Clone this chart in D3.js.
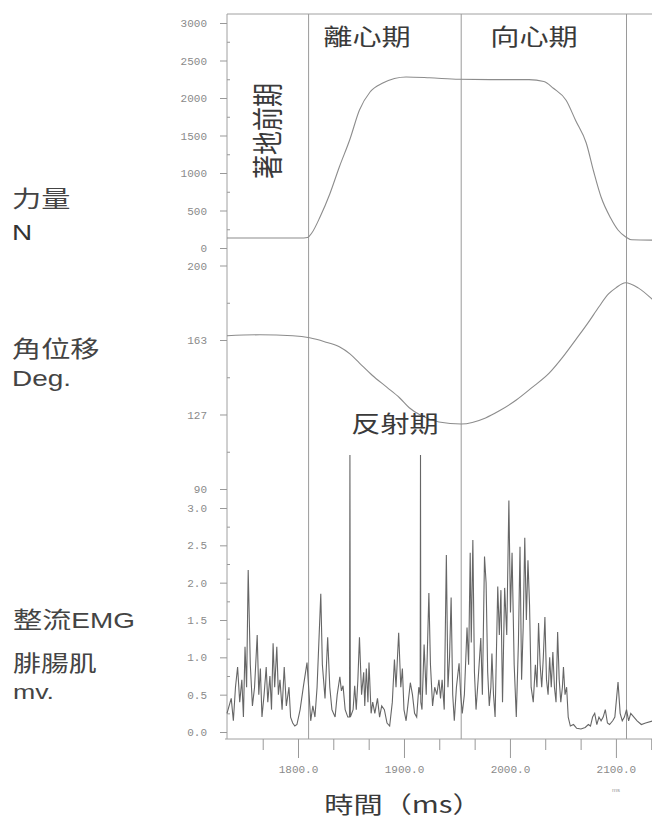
<!DOCTYPE html>
<html>
<head>
<meta charset="utf-8">
<script src="https://cdn.jsdelivr.net/npm/d3@7"></script>
<style>
  body { margin: 0; background: #fff; }
  svg { display: block; }
</style>
</head>
<body>
<div id="chart"></div>
<script>
// 時間軸 (ms)
var xTicks = [1800, 1900, 2000, 2100];
var xTickLabels = ["1800.0", "1900.0", "2000.0", "2100.0"];
var xMinorTicks = [1766.7, 1833.3, 1866.7, 1933.3, 1966.7, 2033.3, 2066.7, 2133.3];

// 分期
var phaseTimes = [1810, 1954, 2110];

// 力量 N
var forceTicks = [0, 500, 1000, 1500, 2000, 2500, 3000];
var forceTimes  = [1733, 1802, 1809, 1813, 1821, 1830, 1839, 1849, 1858, 1868, 1880, 1891, 1902, 1924, 1952, 1990, 2018, 2032, 2041, 2053, 2062, 2072, 2079, 2086, 2095, 2102, 2109, 2115, 2135];
var forceValues = [133, 133, 140, 200, 420, 720, 1080, 1450, 1840, 2080, 2200, 2260, 2280, 2270, 2250, 2245, 2245, 2220, 2130, 1970, 1700, 1400, 1020, 680, 400, 240, 150, 110, 105];

// 角位移 Deg.
var angleTicks = [90, 126.67, 163.33, 200];
var angleTickLabels = ["90", "127", "163", "200"];
var angleTimes  = [1733, 1764, 1795, 1811, 1825, 1839, 1849, 1858, 1870, 1884, 1896, 1905, 1915, 1933, 1954, 1977, 1990, 2006, 2021, 2037, 2050, 2062, 2074, 2084, 2093, 2100, 2109, 2121, 2135];
var angleValues = [165.4, 165.9, 165.4, 164.4, 162.5, 160, 156.5, 152, 146, 140, 134.8, 130, 126.5, 123, 122, 125, 128.5, 133.8, 140, 147, 155, 163.4, 172, 179.7, 186, 189, 191.5, 189, 183];

// 整流EMG 腓腸肌 mv.
var emgTicks = [0, 0.5, 1, 1.5, 2, 2.5, 3];
var emgSamples = [
  [1733, 0.25], [1737, 0.45], [1739, 0.15], [1741, 0.6], [1743, 0.87], [1745, 0.4], [1747, 0.7], [1748.5, 0.2],
  [1750, 1.14], [1751.5, 0.6], [1753, 2.17], [1755, 0.9], [1757, 0.35], [1759, 0.6], [1761.5, 1.3], [1763, 0.5],
  [1764.5, 0.85], [1766, 0.2], [1768, 0.5], [1770, 0.87], [1771.5, 0.4], [1773.5, 0.75], [1775, 0.3], [1776.5, 1.19],
  [1778, 0.6], [1780, 1.14], [1781.5, 0.5], [1783, 0.7], [1785, 0.3], [1787, 0.87], [1789, 0.35], [1791.5, 0.6],
  [1793, 0.2], [1795, 0.12], [1797, 0.08], [1799, 0.1], [1802, 0.3], [1805, 0.6], [1808.5, 0.93], [1810.5, 0.5],
  [1812, 0.15], [1814, 0.35], [1816, 0.2], [1818, 0.6], [1821.5, 1.85], [1823, 0.9], [1825.5, 0.45], [1828, 1.27],
  [1830, 0.6], [1832, 0.3], [1835, 0.2], [1837, 0.5], [1839.5, 0.74], [1841, 0.55], [1842.5, 0.62], [1844.5, 0.3],
  [1847, 0.2], [1848.6, 0.2], [1849, 3.71], [1849.4, 0.2], [1852, 0.3], [1853.5, 0.62], [1855, 0.3], [1856.5, 0.7],
  [1858, 1.27], [1860, 0.5], [1862, 0.8], [1863, 0.35], [1864.5, 0.85], [1866, 0.4], [1867, 0.93], [1869, 0.25],
  [1870.5, 0.4], [1872.5, 0.25], [1875, 0.45], [1877, 0.2], [1879, 0.35], [1881.5, 0.3], [1884, 0.12], [1886.5, 0.08],
  [1889, 0.4], [1891, 0.97], [1892.5, 0.6], [1895, 1.33], [1897, 0.6], [1898.5, 0.85], [1900, 0.3], [1902, 0.15],
  [1904, 0.4], [1906, 0.66], [1908, 0.5], [1910, 0.25], [1912, 0.2], [1914, 0.6], [1915.3, 0.5], [1915.6, 3.71],
  [1915.9, 0.4], [1917, 0.3], [1919, 1.17], [1921, 0.5], [1923.5, 1.86], [1925, 0.9], [1927, 0.35], [1929, 0.6],
  [1931, 0.5], [1933, 0.7], [1934.5, 0.45], [1936, 0.7], [1938, 0.3], [1940, 2.37], [1941.5, 0.6], [1943, 1.0],
  [1944.5, 1.8], [1946, 0.5], [1947.5, 0.15], [1949.5, 0.6], [1952, 0.92], [1953.5, 0.5], [1955, 0.25], [1957, 0.5],
  [1959.5, 1.4], [1961, 0.9], [1962.5, 2.4], [1963.5, 1.2], [1965, 2.57], [1966.5, 0.8], [1968, 0.3], [1970, 0.7],
  [1972.5, 1.26], [1974, 0.5], [1976, 2.35], [1977.5, 2.0], [1979, 0.8], [1980.5, 0.35], [1982, 0.6], [1983, 1.05],
  [1984.5, 0.5], [1986, 0.2], [1988.5, 1.95], [1990, 1.3], [1991.5, 1.9], [1993, 0.4], [1995, 1.93], [1997, 1.3],
  [1999, 3.1], [2000.5, 1.6], [2002, 2.4], [2004, 0.9], [2006, 0.2], [2008, 1.2], [2009.5, 2.48], [2011, 0.7],
  [2012.5, 1.4], [2014, 2.6], [2015.5, 1.5], [2017, 2.3], [2018.5, 1.7], [2020, 0.6], [2022, 0.4], [2024, 0.9],
  [2025.5, 0.6], [2027, 1.46], [2028.5, 0.9], [2030, 0.6], [2031.5, 1.0], [2033, 1.54], [2034.5, 0.7], [2036, 0.5],
  [2037.5, 1.0], [2039, 0.6], [2040.5, 1.07], [2042, 0.6], [2043.5, 0.4], [2045, 1.34], [2046.5, 0.7], [2048, 0.4],
  [2049.5, 0.6], [2050.5, 0.87], [2052, 0.5], [2053.5, 0.6], [2055, 0.2], [2057, 0.08], [2060, 0.1], [2063, 0.05],
  [2067, 0.04], [2071, 0.06], [2074, 0.1], [2076, 0.08], [2078, 0.2], [2080, 0.25], [2082, 0.1], [2084, 0.2],
  [2086, 0.15], [2088, 0.2], [2090, 0.3], [2092, 0.12], [2094, 0.1], [2097, 0.15], [2099, 0.2], [2102, 0.67],
  [2104, 0.25], [2106, 0.15], [2108, 0.2], [2110, 0.3], [2112, 0.15], [2114, 0.25], [2117, 0.2], [2120, 0.15],
  [2124, 0.1], [2128, 0.12], [2135, 0.15]
];

var width = 652, height = 822;
var plotLeft = 227, plotRight = 653, plotTop = 14, plotBottom = 739;
var stretch = "scale(1.27,1)";
var cjk = "'Noto Sans CJK TC', 'Noto Sans CJK JP', sans-serif";
var latin = "'Liberation Sans', Arial, sans-serif";
var mono = "'Liberation Mono', 'DejaVu Sans Mono', monospace";

var svg = d3.select("#chart")
  .append("svg")
  .attr("width", width)
  .attr("height", height);

var x = d3.scaleLinear().domain([1733, 2135]).range([plotLeft, plotRight]);
var yForce = d3.scaleLinear().domain([0, 3000]).range([248, 23]);
var yAngle = d3.scaleLinear().domain([90, 200]).range([489, 265.5]);
var yEmg = d3.scaleLinear().domain([0, 3]).range([732, 508]);

// 外框
svg.append("line")
  .attr("x1", plotLeft).attr("x2", plotRight)
  .attr("y1", plotTop).attr("y2", plotTop)
  .attr("stroke", "#a0a0a0");
svg.append("line")
  .attr("x1", plotLeft).attr("x2", plotLeft)
  .attr("y1", plotTop).attr("y2", plotBottom)
  .attr("stroke", "#a0a0a0");

// 分期線
svg.selectAll(".phase")
  .data(phaseTimes)
  .enter().append("line")
  .attr("class", "phase")
  .attr("x1", function(d) { return x(d); })
  .attr("x2", function(d) { return x(d); })
  .attr("y1", plotTop).attr("y2", plotBottom)
  .attr("stroke", "#9a9a9a");

// 左側刻度
function styleAxis(g) {
  g.select(".domain").remove();
  g.selectAll(".tick line").attr("stroke", "#999");
  g.selectAll(".tick text")
    .attr("fill", "#8a8a8a")
    .style("font-family", mono)
    .style("font-size", "11px");
}

function drawLeftAxis(scale, ticks, labels) {
  svg.append("g")
    .attr("transform", "translate(" + plotLeft + ",0)")
    .call(d3.axisLeft(scale)
      .tickValues(ticks)
      .tickSize(7)
      .tickPadding(13)
      .tickFormat(function(d, i) { return labels[i]; }))
    .call(styleAxis);
  // 細刻度
  var mids = d3.pairs(ticks).map(function(p) { return (p[0] + p[1]) / 2; });
  svg.append("g")
    .attr("transform", "translate(" + plotLeft + ",0)")
    .call(d3.axisRight(scale).tickValues(mids).tickSize(3).tickFormat(""))
    .call(styleAxis);
}

drawLeftAxis(yForce, forceTicks, forceTicks.map(String));
drawLeftAxis(yAngle, angleTicks, angleTickLabels);
drawLeftAxis(yEmg, emgTicks, emgTicks.map(function(d) { return d.toFixed(1); }));

// 時間軸
svg.append("g")
  .attr("transform", "translate(0," + plotBottom + ")")
  .call(d3.axisBottom(x)
    .tickValues(xTicks)
    .tickSize(19)
    .tickPadding(7)
    .tickFormat(function(d, i) { return xTickLabels[i]; }))
  .call(styleAxis);
svg.append("g")
  .attr("transform", "translate(0," + plotBottom + ")")
  .call(d3.axisBottom(x).tickValues(xMinorTicks).tickSize(11).tickFormat(""))
  .call(styleAxis);
svg.append("line")
  .attr("x1", plotLeft - 2).attr("x2", plotRight)
  .attr("y1", plotBottom).attr("y2", plotBottom)
  .attr("stroke", "#a0a0a0");

svg.append("text")
  .attr("x", x(2100) - 4)
  .attr("y", 792)
  .attr("fill", "#999")
  .style("font-family", latin)
  .style("font-size", "6px")
  .text("ms");

// 曲線
var forceData = forceTimes.map(function(t, i) { return [t, forceValues[i]]; });
var angleData = angleTimes.map(function(t, i) { return [t, angleValues[i]]; });

var forceLine = d3.line()
  .x(function(d) { return x(d[0]); })
  .y(function(d) { return yForce(d[1]); })
  .curve(d3.curveMonotoneX);

var angleLine = d3.line()
  .x(function(d) { return x(d[0]); })
  .y(function(d) { return yAngle(d[1]); })
  .curve(d3.curveMonotoneX);

var emgLine = d3.line()
  .x(function(d) { return x(d[0]); })
  .y(function(d) { return yEmg(d[1]); });

svg.append("path")
  .datum(forceData)
  .attr("d", forceLine)
  .attr("fill", "none")
  .attr("stroke", "#8c8c8c")
  .attr("stroke-width", 1.1);

svg.append("path")
  .datum(angleData)
  .attr("d", angleLine)
  .attr("fill", "none")
  .attr("stroke", "#8c8c8c")
  .attr("stroke-width", 1.1);

svg.append("path")
  .datum(emgSamples)
  .attr("d", emgLine)
  .attr("fill", "none")
  .attr("stroke", "#666")
  .attr("stroke-width", 1.1);

// 文字
function label(txt, tx, ty, size, family, anchor, color) {
  return svg.append("text")
    .attr("transform", "translate(" + tx + "," + ty + ")" + stretch)
    .attr("text-anchor", anchor || "start")
    .attr("fill", color || "#3a3a3a")
    .style("font-family", family)
    .style("font-size", size + "px")
    .text(txt);
}

label("離心期", 367, 45, 23, cjk, "middle");
label("向心期", 534, 45, 23, cjk, "middle");
label("反射期", 395, 432, 23, cjk, "middle");

svg.append("text")
  .attr("transform", "translate(266,131)" + stretch + "rotate(-90)")
  .attr("text-anchor", "middle")
  .attr("dominant-baseline", "central")
  .attr("fill", "#3a3a3a")
  .style("font-family", cjk)
  .style("font-size", "24px")
  .text("著地前期");

label("力量", 12, 207, 23, cjk, "start", "#444");
label("N", 12, 240, 22, latin, "start", "#333");
label("角位移", 12, 357, 23, cjk, "start", "#444");
label("Deg.", 12, 386, 22, latin, "start", "#444");

var emgTitle = label("整流", 13, 628, 23, cjk, "start", "#444");
emgTitle.append("tspan").style("font-family", latin).style("font-size", "22px").text("EMG");
label("腓腸肌", 13, 671, 22, cjk, "start", "#444");
label("mv.", 13, 699, 21, latin, "start", "#444");

label("時間（ms）", 403, 813, 23, cjk, "middle", "#3a3a3a");
</script>
</body>
</html>
